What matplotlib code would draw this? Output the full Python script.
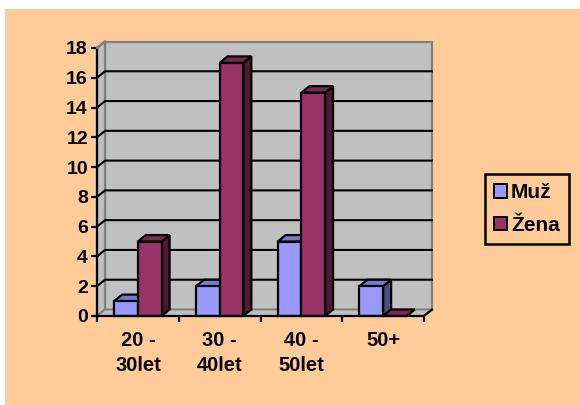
import matplotlib
matplotlib.use("Agg")
import matplotlib.pyplot as plt
from matplotlib.patches import Polygon, Rectangle, Patch
from matplotlib.colors import to_rgb

plt.rcParams['font.family'] = ['Liberation Sans', 'DejaVu Sans']
plt.rcParams['font.weight'] = 'bold'

categories = ["20 -\n30let", "30 -\n40let", "40 -\n50let", "50+"]
series_names = ["Muž", "Žena"]
muz = [1, 2, 5, 2]
zena = [5, 17, 15, 0]
y_ticks = [0, 2, 4, 6, 8, 10, 12, 14, 16, 18]

PEACH = "#FFCC99"
WALL = "#C0C0C0"
WALL_EDGE = "#808080"
COLORS = ["#9999FF", "#993366"]
FS = 14

W, H = 580, 405
fig = plt.figure(figsize=(W / 100, H / 100), dpi=100, facecolor="white")
fig.patches.append(Rectangle((5 / W, 0), 1 - 5 / W, 1 - 9 / H, transform=fig.transFigure,
                             facecolor=PEACH, edgecolor="none", zorder=-10))

# front plane of the 3-D box
x0, x1, yb, yt = 97, 424, 316, 48
ax = fig.add_axes([x0 / W, 1 - yb / H, (x1 - x0) / W, (yb - yt) / H])
ax.set_xlim(0, 4)
ax.set_ylim(0, 18)
ax.patch.set_visible(False)
for s in ax.spines.values():
    s.set_visible(False)

# depth offset of the box, in data units
px_x = (x1 - x0) / 4.0
px_y = (yb - yt) / 18.0
DX = 8 / px_x
DY = 6.5 / px_y


def poly(pts, fc, ec, lw, z):
    ax.add_patch(Polygon(pts, closed=True, facecolor=fc, edgecolor=ec, linewidth=lw,
                         zorder=z, clip_on=False, joinstyle="miter"))


# walls and floor
poly([(DX, DY), (4 + DX, DY), (4 + DX, 18 + DY), (DX, 18 + DY)], WALL, WALL_EDGE, 1.6, 1)
poly([(0, 0), (DX, DY), (DX, 18 + DY), (0, 18)], WALL, WALL_EDGE, 1.6, 1)
poly([(0, 0), (4, 0), (4 + DX, DY), (DX, DY)], WALL, WALL_EDGE, 1.4, 1)

# gridlines across side wall and back wall
for v in y_ticks[1:-1]:
    ax.plot([0, DX, 4 + DX], [v, v + DY, v + DY], color="black", lw=1.5, zorder=2,
            clip_on=False, solid_joinstyle="miter")


def shade(c, f):
    r, g, b = to_rgb(c)
    return (r * f, g * f, b * f)


bw = 0.29
z = 3
for i in range(len(categories)):
    for k, vals in enumerate([muz, zena]):
        h = vals[i]
        left = i + 0.5 - bw + k * bw
        right = left + bw
        c = COLORS[k]
        # side face
        if h > 0:
            poly([(right, 0), (right + DX, DY), (right + DX, h + DY), (right, h)],
                 shade(c, 0.5), "black", 1.6, z)
        # top face
        poly([(left, h), (right, h), (right + DX, h + DY), (left + DX, h + DY)],
             shade(c, 0.8), "black", 1.6, z)
        # front face
        if h > 0:
            ax.bar(left, h, width=bw, bottom=0, align="edge", color=c, edgecolor="black",
                   linewidth=1.6, zorder=z + 0.5, clip_on=False)
        z += 1

# front edges of the box
ax.plot([0, 0], [0, 18], color="black", lw=1.6, zorder=50, clip_on=False)
ax.plot([0, 4, 4 + DX], [0, 0, DY], color="black", lw=1.6, zorder=50, clip_on=False)
ax.plot([0, DX], [18, 18 + DY], color=WALL_EDGE, lw=1.6, zorder=50, clip_on=False)

ax.set_yticks(y_ticks)
ax.set_yticklabels([str(v) for v in y_ticks])
ax.tick_params(axis="y", direction="out", length=4.5, width=1.6, pad=2, labelsize=FS)
ax.set_xticks([0, 1, 2, 3, 4])
ax.set_xticklabels([])
ax.tick_params(axis="x", which="major", direction="out", length=4, width=1.6)
ax.set_xticks([0.5, 1.5, 2.5, 3.5], minor=True)
ax.set_xticklabels(categories, minor=True, fontsize=14.5, fontweight="bold", linespacing=1.4,
                   va="top")
ax.tick_params(axis="x", which="minor", length=0, pad=11)
for t in ax.get_yticklabels():
    t.set_fontweight("bold")

handles = [Patch(facecolor=COLORS[k], edgecolor="black", linewidth=1.4) for k in range(2)]
leg = fig.legend(handles, series_names, loc="upper left",
                 bbox_to_anchor=(485 / W, 1 - 174 / H),
                 frameon=True, fancybox=False, edgecolor="black", facecolor=PEACH,
                 framealpha=1, prop={"size": 15, "weight": "bold"},
                 handlelength=0.6, handleheight=0.6, handletextpad=0.2,
                 labelspacing=0.65, borderpad=0.45, borderaxespad=0)
leg.get_frame().set_linewidth(1.8)

fig.savefig("out.png", dpi=100, facecolor=fig.get_facecolor())
